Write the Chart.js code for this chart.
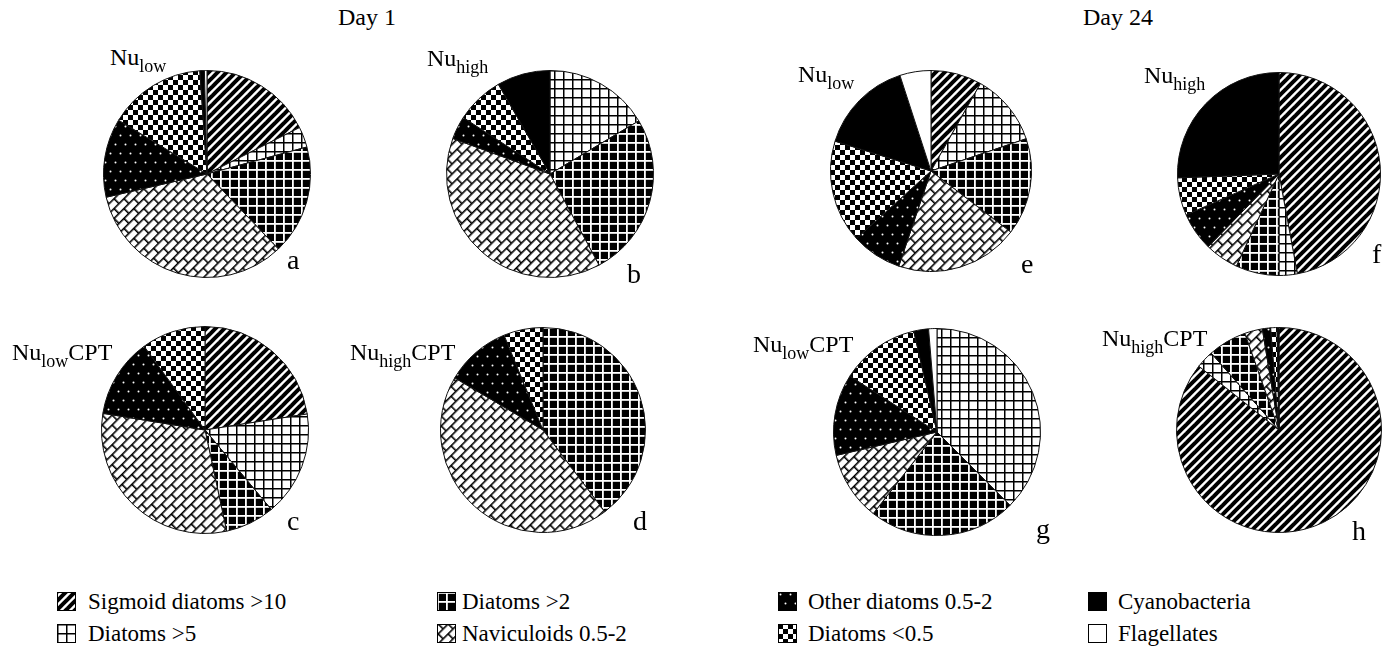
<!DOCTYPE html>
<html><head><meta charset="utf-8">
<script src="https://cdn.jsdelivr.net/npm/chart.js@4"></script>
<style>
html,body{margin:0;padding:0;background:#fff;}
body{width:1396px;height:654px;position:relative;overflow:hidden;font-family:"Liberation Serif","Times New Roman",serif;color:#000;}
.t{position:absolute;white-space:nowrap;line-height:1;}
.t .s{position:relative;top:7px;font-size:18px;}
.pie{position:absolute;}
.sw{position:absolute;}
</style></head><body>
<script>
// ---------- data ----------
const categories = ['Sigmoid diatoms >10','Diatoms >5','Diatoms >2','Naviculoids 0.5-2','Other diatoms 0.5-2','Diatoms <0.5','Cyanobacteria','Flagellates'];
const day1NuLow      = [17.6, 3.2, 17.1, 33.5, 12.3, 15.2, 0.7, 0.4];
const day1NuHigh     = [0, 16.4, 25.7, 38.4, 3.6, 7.5, 8.3, 0];
const day1NuLowCPT   = [22.5, 16.4, 7.7, 30.9, 12.4, 10.0, 0, 0];
const day1NuHighCPT  = [0, 0, 39.7, 43.8, 10.3, 6.2, 0, 0];
const day24NuLow     = [8.2, 11.6, 15.6, 19.8, 8.1, 16.5, 15.2, 5.0];
const day24NuHigh    = [47.1, 2.9, 6.9, 5.4, 6.1, 6.0, 25.6, 0];
const day24NuLowCPT  = [0, 37.5, 23.0, 10.8, 12.7, 12.3, 2.3, 1.3];
const day24NuHighCPT = [85.7, 2.8, 6.1, 2.8, 1.3, 1.0, 0.3, 0];
const panelLetters = ['a','b','c','d','e','f','g','h'];
const dayTitles = ['Day 1','Day 24'];

// ---------- patterns ----------
function tile(w,h,draw){const c=document.createElement('canvas');c.width=w;c.height=h;const g=c.getContext('2d');draw(g,w,h);return c;}
function makePatterns(ctx){
  const S=9;
  const stripes = tile(S,S,(g)=>{g.fillStyle='#fff';g.fillRect(0,0,S,S);g.strokeStyle='#000';g.lineWidth=4;
    for(const o of [-S,0,S]){g.beginPath();g.moveTo(o-S,2*S);g.lineTo(o+2*S,-S);g.stroke();}});
  const gridW = tile(9,9,(g)=>{g.fillStyle='#fff';g.fillRect(0,0,9,9);g.fillStyle='#000';g.fillRect(0,0,9,1.5);g.fillRect(0,0,1.5,9);});
  const gridB = tile(9,9,(g)=>{g.fillStyle='#000';g.fillRect(0,0,9,9);g.fillStyle='#fff';g.fillRect(0,0,9,1.8);g.fillRect(0,0,1.8,9);});
  const brick = tile(14,14,(g)=>{g.fillStyle='#fff';g.fillRect(0,0,14,14);g.fillStyle='#000';
    g.fillRect(0,0,14,1.6);g.fillRect(0,7,14,1.6);g.fillRect(0,0,1.6,7);g.fillRect(7,7,1.6,7);});
  const dots = tile(10,18,(g)=>{g.fillStyle='#000';g.fillRect(0,0,10,18);g.fillStyle='#fff';
    g.beginPath();g.arc(2.5,2.5,1,0,7);g.fill();g.beginPath();g.arc(7.5,11.5,1,0,7);g.fill();});
  const checker = tile(10,10,(g)=>{g.fillStyle='#fff';g.fillRect(0,0,10,10);g.fillStyle='#000';g.fillRect(0,0,5,5);g.fillRect(5,5,5,5);});
  const pBrick = ctx.createPattern(brick,'repeat');
  pBrick.setTransform(new DOMMatrix().rotate(-45));
  return [ctx.createPattern(stripes,'repeat'), ctx.createPattern(gridW,'repeat'), ctx.createPattern(gridB,'repeat'),
          pBrick, ctx.createPattern(dots,'repeat'), ctx.createPattern(checker,'repeat'), '#000', '#fff'];
}

// ---------- pies ----------
const pies = [
  {data:day1NuLow,     cx:207, cy:174, r:103},
  {data:day1NuHigh,    cx:550, cy:174, r:103},
  {data:day1NuLowCPT,  cx:205, cy:430, r:103},
  {data:day1NuHighCPT, cx:543, cy:430, r:102},
  {data:day24NuLow,    cx:931, cy:171, r:100},
  {data:day24NuHigh,   cx:1279,cy:174, r:101},
  {data:day24NuLowCPT, cx:937, cy:432, r:103},
  {data:day24NuHighCPT,cx:1279,cy:430, r:102}
];
pies.forEach(p=>{
  const size = 2*p.r+2;
  const cv = document.createElement('canvas');
  cv.width=size; cv.height=size; cv.className='pie';
  cv.style.left=(p.cx-p.r-1)+'px'; cv.style.top=(p.cy-p.r-1)+'px';
  document.body.appendChild(cv);
  const ctx = cv.getContext('2d');
  new Chart(ctx,{type:'pie',
    data:{labels:categories,datasets:[{data:p.data,backgroundColor:makePatterns(ctx),borderColor:'#111',borderWidth:1,hoverOffset:0}]},
    options:{responsive:false,animation:false,events:[],layout:{padding:0},
      plugins:{legend:{display:false},tooltip:{enabled:false}}}});
});

// ---------- text ----------
function addText(html,left,baseline,size){
  const d=document.createElement('div');d.className='t';d.innerHTML=html;
  d.style.fontSize=size+'px';d.style.left=left+'px';d.style.top=(baseline-0.8375*size)+'px';
  document.body.appendChild(d);
}
addText(dayTitles[0],338,25,24);
addText(dayTitles[1],1083,25,24);
const nuLabels = [
  ['Nu<span class="s">low</span>',110,65],
  ['Nu<span class="s">high</span>',427,66],
  ['Nu<span class="s">low</span>CPT',12,360],
  ['Nu<span class="s">high</span>CPT',350,360],
  ['Nu<span class="s">low</span>',798,82],
  ['Nu<span class="s">high</span>',1144,83],
  ['Nu<span class="s">low</span>CPT',753,352],
  ['Nu<span class="s">high</span>CPT',1102,346]
];
nuLabels.forEach(l=>addText(l[0],l[1],l[2],24));
const letterPos = [[287,269],[627,283],[287,530],[633,530],[1021,273],[1372,263],[1036,538],[1352,540]];
panelLetters.forEach((s,i)=>addText(s,letterPos[i][0],letterPos[i][1],28));

// ---------- legend ----------
const legPos = [[57,601,31],[57,633,31],[437,601,25],[437,633,25],[778,601,30],[778,633,30],[1088,601,30],[1088,633,30]];
categories.forEach((name,i)=>{
  const [x,cy,gap]=legPos[i];
  const c=document.createElement('canvas');c.width=19;c.height=19;c.className='sw';
  c.style.left=x+'px';c.style.top=(cy-9)+'px';document.body.appendChild(c);
  const g=c.getContext('2d');const pats=makePatterns(g);
  g.fillStyle=pats[i];g.fillRect(0,0,19,19);
  g.strokeStyle='#000';g.lineWidth=1;g.strokeRect(0.5,0.5,18,18);
  addText(name,x+gap,cy+8,23);
});
</script>
</body></html>
